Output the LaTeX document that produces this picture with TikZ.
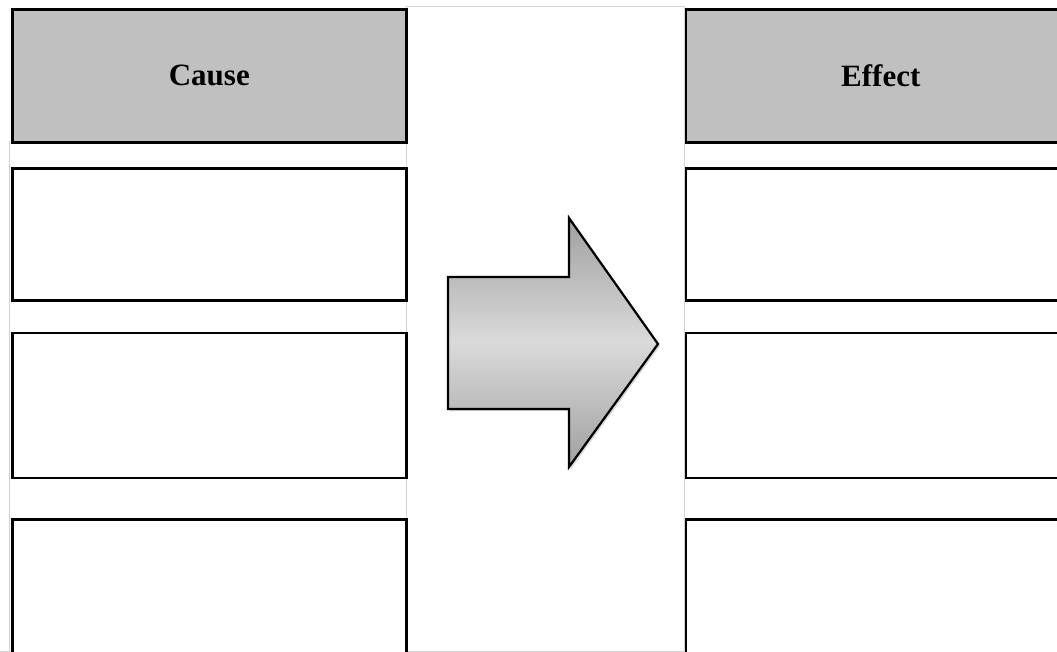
\documentclass[tikz,border=0pt]{standalone}
\usepackage{fontspec}
\setmainfont{Liberation Serif}
\usetikzlibrary{shadows}
\definecolor{hdrgray}{RGB}{192,192,192}
\definecolor{gridgray}{RGB}{212,212,212}
\definecolor{arrowedge}{RGB}{160,160,160}
\definecolor{arrowmid}{RGB}{218,218,218}
\tikzset{
  cell/.style={draw=black, line width=2.6pt, fill=white, anchor=north west, inner sep=0pt, minimum width=394pt},
  rcell/.style={cell, minimum width=390pt},
  header/.style={fill=hdrgray, font=\fontsize{31}{31}\selectfont\bfseries},
  grid/.style={draw=gridgray, line width=0.8pt},
  bigarrow/.style={draw=black, line width=2.2pt, line join=miter,
    top color=arrowedge, bottom color=arrowedge, middle color=arrowmid,
    drop shadow={opacity=0.3, shadow xshift=2pt, shadow yshift=-2pt}}
}
\begin{document}
\begin{tikzpicture}[x=1pt,y=-1pt]
\useasboundingbox (0,0) rectangle (1057,652);
\clip (0,0) rectangle (1057,652);
\fill[white] (0,0) rectangle (1057,652);
% faint table grid
\coordinate (g1) at (406,6);
\coordinate (g2) at (684,6);
\coordinate (g3) at (406,651);
\coordinate (g4) at (684,651);
\coordinate (g5) at (9.5,141);
\coordinate (g6) at (9.5,651);
\coordinate (g7) at (0,651);
\coordinate (g8) at (1057,651);
\draw[grid] (g1) -- (g2);
\draw[grid] (g1) -- (g3);
\draw[grid] (g2) -- (g4);
\draw[grid] (g5) -- (g6);
\draw[grid] (g7) -- (g8);
% left column
\node[cell, header, minimum height=133pt] (cause) at (11,8) {Cause};
\node[cell, minimum height=132pt] (c1) at (11,167) {};
\node[cell, minimum height=145pt] (c2) at (11,331.5) {};
\node[cell, minimum height=150pt] (c3) at (11,518) {};
% right column
\node[rcell, header, minimum height=133pt] (effect) at (684.5,8) {Effect};
\node[rcell, minimum height=132pt] (e1) at (684.5,167) {};
\node[rcell, minimum height=145pt] (e2) at (684.5,331.5) {};
\node[rcell, minimum height=150pt] (e3) at (684.5,518) {};
% arrow
\path[bigarrow] (448,277) -- (569,277) -- (569,218) -- (658,344) -- (569,467) -- (569,409) -- (448,409) -- cycle;
\end{tikzpicture}
\end{document}
